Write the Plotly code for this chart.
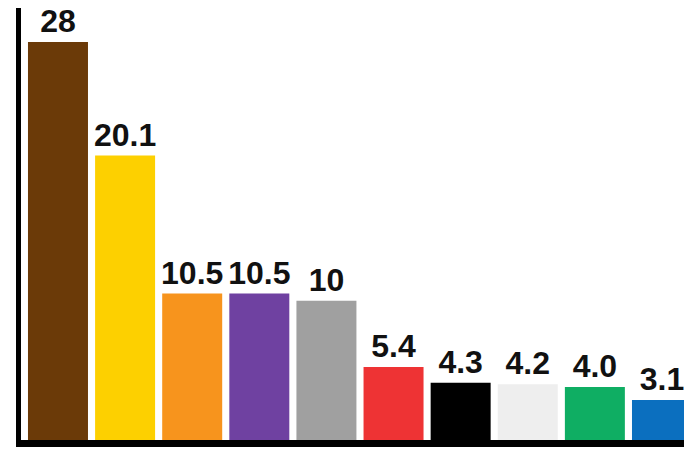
import plotly.graph_objects as go

# Share values and bar colours
categories = ["A", "B", "C", "D", "E", "F", "G", "H", "I", "J"]
values = [28, 20.1, 10.5, 10.5, 10, 5.4, 4.3, 4.2, 4.0, 3.1]
labels = ["28", "20.1", "10.5", "10.5", "10", "5.4", "4.3", "4.2", "4.0", "3.1"]
colors = ["#6b3a08", "#fdd000", "#f7941d", "#6f41a1", "#a0a0a0",
          "#ee3334", "#000000", "#eeeeee", "#0fae63", "#0b6fbf"]

W, H = 684, 449
ML, MB = 21, 9
plot_w = W - ML
plot_h = H - MB


def px_x(p):
    return (p - ML) / plot_w


def px_y(p):
    return (plot_h - p) / plot_h


fig = go.Figure(
    go.Bar(
        x=list(range(len(categories))),
        y=values,
        marker=dict(color=colors, line=dict(width=0)),
        text=labels,
        textposition="outside",
        constraintext="none",
        textfont=dict(family="Liberation Sans Narrow, Liberation Sans, Arial, sans-serif",
                      size=32, color="#111111", weight="bold"),
        cliponaxis=False,
        hoverinfo="skip",
    )
)

# Heavy axis strokes on the left and bottom
fig.add_shape(type="line", xref="paper", yref="paper",
              x0=px_x(18.5), x1=px_x(18.5), y0=px_y(8), y1=px_y(447),
              line=dict(color="#000000", width=5))
fig.add_shape(type="line", xref="paper", yref="paper",
              x0=px_x(16), x1=1.0, y0=px_y(443.5), y1=px_y(443.5),
              line=dict(color="#000000", width=7))

fig.update_layout(
    width=W, height=H,
    margin=dict(l=ML, r=0, t=0, b=MB),
    paper_bgcolor="white", plot_bgcolor="white",
    bargap=0.106,
    showlegend=False,
    xaxis=dict(range=[-0.551, 9.328], showticklabels=False, showgrid=False,
               zeroline=False, showline=False, ticks=""),
    yaxis=dict(range=[0.32, 30.92], showticklabels=False, showgrid=False,
               zeroline=False, showline=False, ticks=""),
)

fig.write_html("out.html")
